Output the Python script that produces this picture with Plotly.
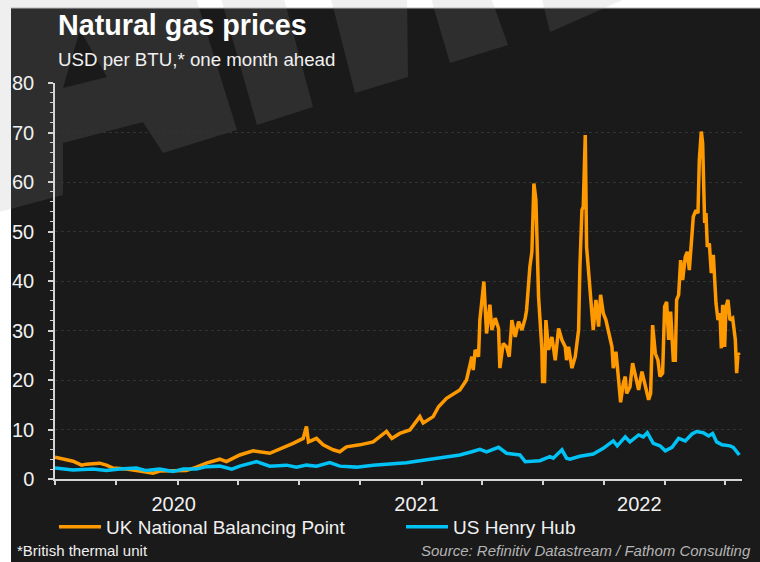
import plotly.graph_objects as go

W, H = 760, 562
L, R, T, B = 55, 18, 83, 83

# UK National Balancing Point, USD per BTU (one month ahead)
uk_dates = [
    "2019-07-01", "2019-07-13", "2019-07-28", "2019-08-10", "2019-08-17", "2019-09-06",
    "2019-09-16", "2019-09-26", "2019-10-16", "2019-11-05", "2019-11-25", "2019-12-05",
    "2019-12-25", "2020-01-14", "2020-01-29", "2020-02-13", "2020-03-04", "2020-03-14",
    "2020-04-03", "2020-04-23", "2020-05-18", "2020-06-02", "2020-06-22", "2020-07-07",
    "2020-07-12", "2020-07-15", "2020-07-27", "2020-08-06", "2020-08-21", "2020-08-31",
    "2020-09-10", "2020-09-30", "2020-10-20", "2020-11-09", "2020-11-17", "2020-11-29",
    "2020-12-14", "2020-12-29", "2021-01-03", "2021-01-18", "2021-01-26", "2021-02-07",
    "2021-02-27", "2021-03-09", "2021-03-14", "2021-03-17", "2021-03-19", "2021-03-22",
    "2021-03-27", "2021-03-29", "2021-04-04", "2021-04-08", "2021-04-13", "2021-04-16",
    "2021-04-21", "2021-04-26", "2021-04-28", "2021-05-03", "2021-05-08", "2021-05-12",
    "2021-05-16", "2021-05-21", "2021-05-26", "2021-05-31", "2021-06-05", "2021-06-07",
    "2021-06-12", "2021-06-15", "2021-06-18", "2021-06-21", "2021-06-25", "2021-06-30",
    "2021-07-01", "2021-07-04", "2021-07-06", "2021-07-10", "2021-07-15", "2021-07-20",
    "2021-07-25", "2021-07-30", "2021-08-04", "2021-08-06", "2021-08-09", "2021-08-14",
    "2021-08-19", "2021-08-24", "2021-08-26", "2021-08-29", "2021-08-31", "2021-09-03",
    "2021-09-05", "2021-09-09", "2021-09-12", "2021-09-15", "2021-09-19", "2021-09-23",
    "2021-09-26", "2021-09-30", "2021-10-04", "2021-10-08", "2021-10-13", "2021-10-15",
    "2021-10-19", "2021-10-23", "2021-10-26", "2021-10-30", "2021-11-02", "2021-11-04",
    "2021-11-09", "2021-11-13", "2021-11-17", "2021-11-22", "2021-11-27", "2021-12-02",
    "2021-12-07", "2021-12-10", "2021-12-13", "2021-12-17", "2021-12-21", "2021-12-24",
    "2021-12-28", "2021-12-31", "2022-01-03", "2022-01-06", "2022-01-09", "2022-01-13",
    "2022-01-16", "2022-01-18", "2022-01-21", "2022-01-24", "2022-01-27", "2022-01-31",
    "2022-02-03", "2022-02-06", "2022-02-09", "2022-02-12", "2022-02-16", "2022-02-19",
    "2022-02-21", "2022-02-24", "2022-02-26", "2022-03-01", "2022-03-03", "2022-03-05",
    "2022-03-08", "2022-03-11", "2022-03-14", "2022-03-18", "2022-03-21", "2022-03-24",
    "2022-03-26", "2022-03-28", "2022-03-31", "2022-04-02", "2022-04-05", "2022-04-08",
    "2022-04-12", "2022-04-16", "2022-04-18", "2022-04-20", "2022-04-22",
]
uk_values = [
    4.4, 4.0, 3.6, 2.8, 3.0, 3.2,
    2.8, 2.2, 2.0, 1.6, 1.15, 1.6,
    1.7, 1.7, 2.4, 3.2, 4.0, 3.5,
    4.85, 5.7, 5.2, 6.0, 7.2, 8.2,
    10.6, 7.5, 8.2, 6.9, 5.9, 5.5,
    6.5, 6.9, 7.5, 9.6, 8.2, 9.2,
    9.9, 12.6, 11.3, 12.6, 14.6, 16.3,
    18.0, 20.0, 22.7, 24.7, 22.0, 26.1,
    24.7, 32.1, 39.9, 29.4, 35.2, 30.1,
    32.5, 30.4, 22.4, 27.4, 26.7, 24.7,
    32.1, 28.7, 31.8, 30.1, 32.5, 34.1,
    42.9, 45.9, 59.7, 56.4, 36.8, 26.1,
    19.7, 19.7, 32.1, 26.1, 28.7, 24.0,
    30.4, 28.1, 26.7, 24.0, 26.7, 22.4,
    24.7, 30.1, 42.9, 54.3, 55.0, 69.5,
    46.9, 40.2, 34.8, 30.1, 36.2, 30.8,
    37.2, 33.5, 32.1, 29.4, 26.7, 22.4,
    25.7, 20.0, 15.5, 19.3, 20.7, 17.3,
    18.6, 23.4, 20.7, 18.0, 21.7, 19.0,
    16.0, 17.3, 31.1, 25.4, 24.0, 20.7,
    21.4, 34.8, 35.8, 28.1, 33.8, 24.0,
    24.0, 36.2, 37.2, 44.2, 40.2, 44.9,
    45.9, 42.2, 48.9, 53.0, 54.3, 53.7,
    64.4, 70.2, 67.8, 51.7, 53.7, 46.9,
    47.6, 41.6, 45.3, 35.5, 32.1, 33.5,
    26.4, 35.2, 26.7, 34.8, 36.2, 32.1,
    32.5, 28.1, 21.4, 25.4, 25.0,
]

# US Henry Hub, USD per BTU (one month ahead)
us_dates = [
    "2019-07-01", "2019-07-28", "2019-08-27", "2019-09-16", "2019-10-06", "2019-10-31",
    "2019-11-15", "2019-12-05", "2019-12-25", "2020-01-09", "2020-01-29", "2020-02-13",
    "2020-03-04", "2020-03-22", "2020-04-03", "2020-04-28", "2020-05-18", "2020-06-12",
    "2020-06-27", "2020-07-12", "2020-07-27", "2020-08-16", "2020-08-31", "2020-09-25",
    "2020-10-20", "2020-11-14", "2020-12-09", "2020-12-29", "2021-01-23", "2021-02-27",
    "2021-03-17", "2021-03-29", "2021-04-08", "2021-04-26", "2021-05-08", "2021-05-28",
    "2021-06-05", "2021-06-27", "2021-07-12", "2021-07-17", "2021-07-30", "2021-08-06",
    "2021-08-11", "2021-08-26", "2021-09-15", "2021-09-30", "2021-10-15", "2021-10-21",
    "2021-11-02", "2021-11-09", "2021-11-22", "2021-11-29", "2021-12-05", "2021-12-14",
    "2021-12-24", "2022-01-01", "2022-01-11", "2022-01-21", "2022-01-31", "2022-02-10",
    "2022-02-17", "2022-02-27", "2022-03-07", "2022-03-13", "2022-03-19", "2022-03-27",
    "2022-04-08", "2022-04-13", "2022-04-22",
]
us_values = [
    2.2, 1.8, 2.0, 1.7, 2.0, 2.2,
    1.7, 2.0, 1.5, 2.0, 2.0, 2.5,
    2.6, 2.0, 2.6, 3.5, 2.6, 2.8,
    2.4, 2.8, 2.6, 3.3, 2.6, 2.4,
    2.8, 3.0, 3.3, 3.7, 4.2, 4.85,
    5.5, 6.0, 5.5, 6.4, 5.2, 4.85,
    3.5, 3.7, 4.5, 4.2, 5.9, 4.2,
    4.0, 4.6, 5.05, 6.2, 7.7, 6.7,
    8.5, 7.5, 8.9, 8.5, 9.35, 7.2,
    6.7, 5.7, 6.4, 8.2, 7.7, 9.1,
    9.6, 9.35, 8.7, 9.2, 7.5, 6.9,
    6.7, 6.4, 4.85,
]

year_labels = ["2020", "2021", "2022"]
year_label_dates = ["2019-12-26", "2020-12-24", "2021-11-23"]

FONT = "Arial, Liberation Sans, sans-serif"
TEXT = "#f0f0f0"
AXIS = "#d4d4d4"


def px(x):
    return (x - L) / (W - L - R)


def py(y):
    return (H - B - y) / (H - T - B)


def poly(points):
    return "M " + " L ".join(f"{px(x):.4f},{py(y):.4f}" for x, y in points) + " Z"


fig = go.Figure()
fig.add_trace(go.Scatter(x=uk_dates, y=uk_values, mode="lines",
                         name="UK National Balancing Point",
                         line=dict(color="#ff9900", width=3.5)))
fig.add_trace(go.Scatter(x=us_dates, y=us_values, mode="lines",
                         name="US Henry Hub",
                         line=dict(color="#00c2f5", width=3.5)))

# dark panel + faint logo watermark
shapes = [
    dict(type="rect", xref="paper", yref="paper", layer="below",
         x0=px(11), x1=px(W + 5), y0=py(H + 5), y1=py(8),
         fillcolor="#1a1a1a", line=dict(width=0)),
    dict(type="line", xref="paper", yref="paper", layer="below",
         x0=px(11), x1=px(W + 5), y0=py(8), y1=py(8),
         line=dict(color="#bdbdbd", width=1)),
]
wm = [
    poly([(-5, -5), (195, -5), (237, 130), (163, 153), (143, 122), (63, 143), (63, 195), (-5, 213)])
    + " " + poly([(63, 88), (107, 77), (80, 30)]),
    poly([(220, -5), (283, -5), (313, 107), (257, 125)]),
    poly([(330, -5), (407, -5), (408, 77), (355, 93)]),
    poly([(430, -5), (490, -5), (508, 45), (450, 63)]),
    poly([(541, -5), (634, -5), (550, 32)]),
]
for p in wm:
    shapes.append(dict(type="path", path=p, xref="paper", yref="paper", layer="below",
                       fillcolor="rgba(156,156,156,0.16)", line=dict(width=0)))

fig.update_layout(
    width=W, height=H,
    margin=dict(l=L, r=R, t=T, b=B),
    paper_bgcolor="white",
    plot_bgcolor="rgba(0,0,0,0)",
    font=dict(family=FONT, color=TEXT),
    shapes=shapes,
    showlegend=True,
    legend=dict(orientation="h", x=px(54), y=py(527), xanchor="left", yanchor="middle",
                font=dict(size=19, color=TEXT), bgcolor="rgba(0,0,0,0)",
                entrywidth=290, entrywidthmode="pixels", itemwidth=42),
    annotations=[
        dict(text="<b>Natural gas prices</b>", xref="paper", yref="paper",
             x=px(56), y=py(25), xanchor="left", yanchor="middle", showarrow=False,
             font=dict(size=28.7, color="white")),
        dict(text="USD per BTU,* one month ahead", xref="paper", yref="paper",
             x=px(56), y=py(59), xanchor="left", yanchor="middle", showarrow=False,
             font=dict(size=18.7, color=TEXT)),
        dict(text="*British thermal unit", xref="paper", yref="paper",
             x=px(15), y=py(550), xanchor="left", yanchor="middle", showarrow=False,
             font=dict(size=15, color=TEXT)),
        dict(text="<i>Source: Refinitiv Datastream / Fathom Consulting</i>", xref="paper",
             yref="paper", x=px(753), y=py(550), xanchor="right", yanchor="middle",
             showarrow=False, font=dict(size=15, color="#b4b4b4")),
    ],
)

fig.update_xaxes(
    type="date", range=["2019-07-01", "2022-04-26"],
    showline=True, linecolor=AXIS, linewidth=2,
    showgrid=False, zeroline=False,
    tickmode="array", tickvals=year_label_dates, ticktext=year_labels,
    ticks="", tickfont=dict(size=20, color=TEXT), ticklabelstandoff=6,
    minor=dict(ticks="outside", ticklen=4, tickwidth=1.5, tickcolor=AXIS,
               dtick="M3", tick0="2019-07-01", showgrid=False),
)
fig.update_yaxes(
    range=[0, 80], dtick=10, tick0=0,
    showline=True, linecolor=AXIS, linewidth=1.5,
    ticks="outside", ticklen=5, tickwidth=1.5, tickcolor=AXIS,
    showgrid=True, gridcolor="#2e3535", griddash="dot", gridwidth=1,
    zeroline=False,
    tickfont=dict(size=20, color=TEXT), ticklabelstandoff=10,
    minor=dict(dtick=2, ticks="outside", ticklen=3, tickwidth=1, tickcolor=AXIS,
               showgrid=False),
)

# the page's default body margin would shift the whole figure by 8px
fig.write_html("out.html", config={"displayModeBar": False},
               post_script="document.body.style.margin = '0';")
